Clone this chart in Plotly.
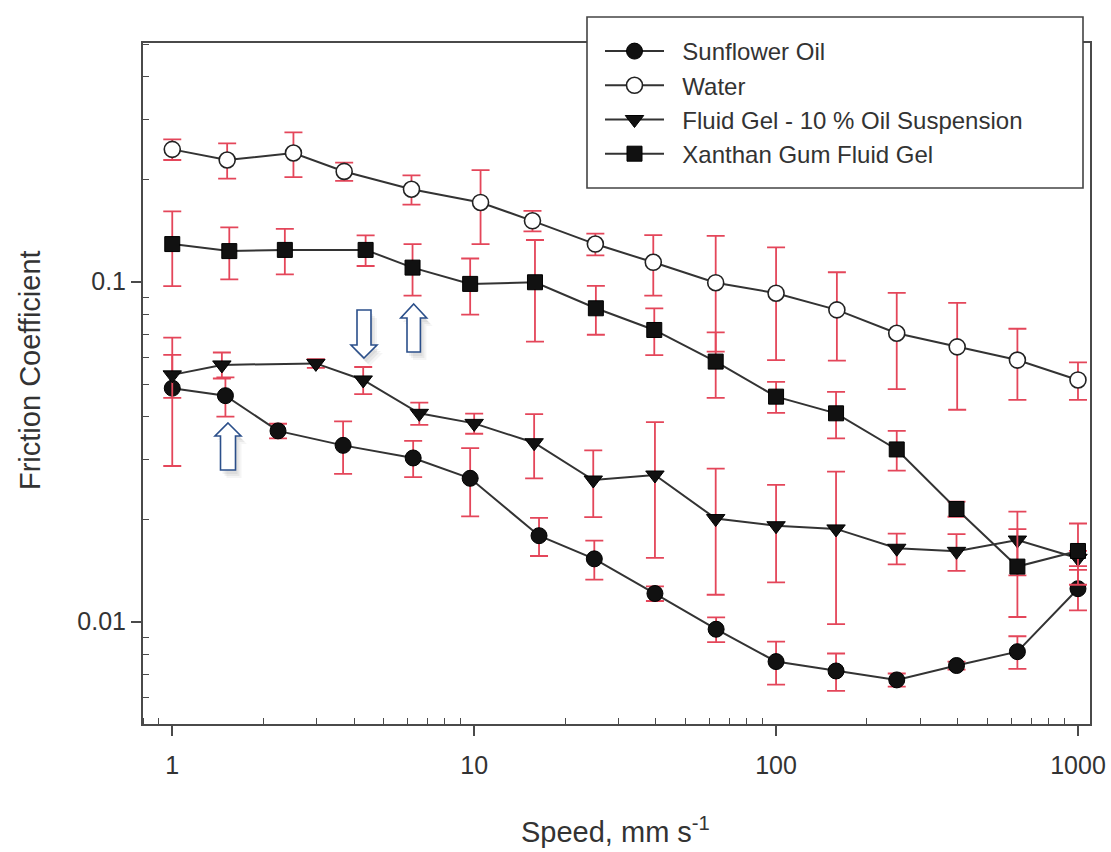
import plotly.graph_objects as go
import math

# ---------------- data ----------------
sun_x = [1.0, 1.5, 2.24, 3.68, 6.28, 9.7, 16.4, 25.0, 39.7, 63.3, 100, 158, 251, 396, 630, 1000]
sun_y = [0.0486, 0.0462, 0.0364, 0.0330, 0.0303, 0.0264, 0.0179, 0.0153, 0.0121, 0.0095,
         0.00763, 0.00716, 0.00674, 0.00743, 0.00816, 0.0125]
sun_e = [0.0199, 0.0061, 0.0018, 0.0058, 0.0037, 0.0060, 0.0023, 0.0020, 0.0006, 0.0008,
         0.0011, 0.0009, 0.0003, 0.0002, 0.0009, 0.0017]

wat_x = [1.0, 1.52, 2.52, 3.71, 6.2, 10.5, 15.6, 25.2, 39.2, 63.1, 100, 159, 251, 398, 630, 1000]
wat_y = [0.245, 0.228, 0.239, 0.211, 0.187, 0.171, 0.151, 0.129, 0.114, 0.0993,
         0.0925, 0.0826, 0.0705, 0.0643, 0.0588, 0.0514]
wat_e = [0.017, 0.027, 0.036, 0.013, 0.0185, 0.042, 0.0105, 0.0095, 0.023, 0.037,
         0.0337, 0.024, 0.0222, 0.0223, 0.0139, 0.0065]

fg_x = [1.0, 1.46, 2.99, 4.29, 6.58, 10.0, 15.8, 24.8, 39.7, 63.1, 100, 158, 251, 396, 630, 1000]
fg_y = [0.0532, 0.0569, 0.0575, 0.0514, 0.0410, 0.0383, 0.0336, 0.0261, 0.0270, 0.0201,
        0.01915, 0.01874, 0.01644, 0.0161, 0.01738, 0.01536]
fg_e = [0.0077, 0.0050, 0.0017, 0.0047, 0.0031, 0.0026, 0.0072, 0.0058, 0.0116, 0.0081,
        0.0061, 0.0089, 0.0017, 0.0020, 0.0037, 0.0008]

xg_x = [1.0, 1.545, 2.36, 4.37, 6.25, 9.7, 15.9, 25.3, 39.5, 63.1, 100, 158, 251, 396, 630, 1000]
xg_y = [0.129, 0.123, 0.124, 0.124, 0.110, 0.0985, 0.0996, 0.0835, 0.0721, 0.0582,
        0.0459, 0.041, 0.0321, 0.02145, 0.01452, 0.01614]
xg_e = [0.032, 0.0215, 0.019, 0.0128, 0.019, 0.0185, 0.033, 0.0137, 0.0113, 0.0127,
        0.0048, 0.0064, 0.0043, 0.0011, 0.0042, 0.0033]

series_names = ["Sunflower Oil", "Water", "Fluid Gel - 10 % Oil Suspension", "Xanthan Gum Fluid Gel"]

x_tickvals = [1, 10, 100, 1000]
x_ticktext = ["1", "10", "100", "1000"]
y_tickvals = [0.01, 0.1]
y_ticktext = ["0.01", "0.1"]

x_title = "Speed, mm s<sup>-1</sup>"
y_title = "Friction Coefficient"

# ---------------- styling ----------------
FONT = "Liberation Sans, Arial, sans-serif"
TXT = "#333333"
AX = "#4a4a4a"
LINE = "#333333"
ERR = "#e4465a"

def err_style(e):
    return dict(type="data", array=e, visible=True, color=ERR, thickness=1.8, width=9)

fig = go.Figure()
specs = [
    (sun_x, sun_y, sun_e, series_names[0], dict(symbol="circle", size=16, color="#111111",
                                                  line=dict(color="#000000", width=1))),
    (wat_x, wat_y, wat_e, series_names[1], dict(symbol="circle", size=16, color="#ffffff",
                                                  line=dict(color="#222222", width=1.6))),
    (fg_x, fg_y, fg_e, series_names[2], dict(symbol="triangle-down", size=16, color="#111111",
                                               line=dict(color="#000000", width=1))),
    (xg_x, xg_y, xg_e, series_names[3], dict(symbol="square", size=15, color="#111111",
                                               line=dict(color="#000000", width=1))),
]
for i, (xs, ys, es, nm, mk) in enumerate(specs):
    fig.add_trace(go.Scatter(
        x=xs, y=ys, name="\u00a0\u00a0" + nm, mode="lines+markers", legendgroup=f"g{i}",
        line=dict(color=LINE, width=2), marker=mk, error_y=err_style(es),
    ))

# ---------------- helpers for paper coordinates ----------------
L, R, T, B = 143, 1090, 43, 724
def px(x):
    return (x - L) / (R - L)
def py(y):
    return (B - y) / (B - T)

# ---------------- block arrows ----------------
def up_arrow(cx, top, bottom, hw, sw, headh):
    return [(cx, top), (cx + hw, top + headh), (cx + sw, top + headh), (cx + sw, bottom),
            (cx - sw, bottom), (cx - sw, top + headh), (cx - hw, top + headh)]

def down_arrow(cx, top, bottom, hw, sw, headh):
    return [(cx, bottom), (cx + hw, bottom - headh), (cx + sw, bottom - headh), (cx + sw, top),
            (cx - sw, top), (cx - sw, bottom - headh), (cx - hw, bottom - headh)]

def to_path(pts, dx=0, dy=0):
    return "M " + " L ".join(f"{px(x+dx):.5f},{py(y+dy):.5f}" for x, y in pts) + " Z"

arrows = [
    up_arrow(228, 423, 470, 13, 7.5, 13),
    down_arrow(364, 310, 358, 13, 7, 13),
    up_arrow(413.7, 304, 352, 13, 6.7, 14),
]
for pts in arrows:
    for k, a in [(7, 0.04), (5, 0.05), (3, 0.05)]:
        fig.add_shape(type="path", path=to_path(pts, k - 1, k + 1), xref="paper", yref="paper",
                      fillcolor=f"rgba(0,0,0,{a})", line=dict(width=0), layer="above")
    fig.add_shape(type="path", path=to_path(pts), xref="paper", yref="paper",
                  fillcolor="#ffffff", line=dict(color="#2b4f8a", width=1.6), layer="above")

# ---------------- legend frame (drawn as a box, legend itself borderless) ----------------
fig.add_shape(type="rect", xref="paper", yref="paper",
              x0=px(587), x1=px(1083), y0=py(188), y1=py(17),
              fillcolor="#ffffff", line=dict(color="#444444", width=1.6), layer="above")

# ---------------- axis titles ----------------
fig.add_annotation(text=x_title, xref="paper", yref="paper", x=px(615), y=py(830),
                   xanchor="center", yanchor="middle", showarrow=False,
                   font=dict(family=FONT, size=29, color=TXT))
fig.add_annotation(text=y_title, xref="paper", yref="paper", x=px(30), y=py(370),
                   xanchor="center", yanchor="middle", showarrow=False, textangle=-90,
                   font=dict(family=FONT, size=29, color=TXT))

# ---------------- axes ----------------
x_minor = [v * m for v in [0.1, 1, 10, 100, 1000] for m in range(2, 10)] + [0.9]
y_minor = [v * m for v in [0.001, 0.01, 0.1] for m in range(2, 10)]

axis_common = dict(
    showline=True, linecolor=AX, linewidth=2, mirror=True,
    ticks="outside", ticklen=10, tickwidth=1.6, tickcolor=AX,
    showgrid=False, zeroline=False,
    tickfont=dict(family=FONT, size=25, color=TXT),
    tickmode="array", automargin=False,
)

fig.update_xaxes(
    type="log", range=[math.log10(0.8), math.log10(1096)],
    tickvals=x_tickvals, ticktext=x_ticktext,
    minor=dict(tickmode="array", tickvals=x_minor, ticks="inside", ticklen=6,
               tickwidth=1.4, tickcolor=AX, showgrid=False),
    ticklabelstandoff=8,
    **axis_common,
)
fig.update_yaxes(
    type="log", range=[math.log10(0.005), math.log10(0.5035)],
    tickvals=y_tickvals, ticktext=y_ticktext,
    minor=dict(tickmode="array", tickvals=y_minor, ticks="inside", ticklen=6,
               tickwidth=1.4, tickcolor=AX, showgrid=False),
    ticklabelstandoff=0,
    **axis_common,
)

fig.update_layout(
    width=1111, height=852,
    margin=dict(l=L, r=1111 - R, t=T, b=852 - B, autoexpand=False),
    paper_bgcolor="#ffffff", plot_bgcolor="#ffffff",
    showlegend=True,
    legend=dict(
        x=px(600), y=py(29), xanchor="left", yanchor="top",
        bgcolor="rgba(0,0,0,0)", borderwidth=0,
        font=dict(family=FONT, size=24, color=TXT),
        tracegroupgap=0, itemwidth=59,
    ),
)

fig.write_html("out.html", config={"displayModeBar": False},
               post_script="document.body.style.margin='0px';")
